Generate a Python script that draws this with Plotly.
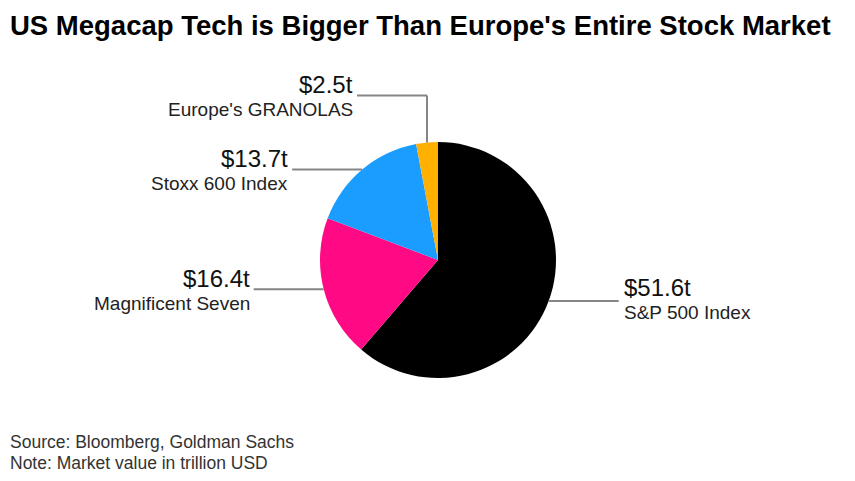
import math
import plotly.graph_objects as go

# ---- data ----
labels = ["S&P 500 Index", "Magnificent Seven", "Stoxx 600 Index", "Europe's GRANOLAS"]
values = [51.6, 16.4, 13.7, 2.5]
value_text = ["$51.6t", "$16.4t", "$13.7t", "$2.5t"]
colors = ["#000000", "#ff0a84", "#1a9dff", "#ffb000"]

title = "US Megacap Tech is Bigger Than Europe's Entire Stock Market"
footer = ["Source: Bloomberg, Goldman Sachs", "Note: Market value in trillion USD"]

# ---- layout geometry (pixels in the 855x481 window; page body has an 8px margin) ----
OFF = 8
W, H = 855 - 2 * OFF, 481 - 2 * OFF
CX, CY, R = 438, 260, 118

def px(x):
    return (x - OFF) / W

def py(y):
    return 1 - (y - OFF) / H

fig = go.Figure(go.Pie(
    labels=labels, values=values, sort=False, direction="clockwise", rotation=0,
    marker=dict(colors=colors, line=dict(width=0)),
    textinfo="none", hoverinfo="label+value", showlegend=False,
    domain=dict(x=[px(CX - R), px(CX + R)], y=[py(CY + R), py(CY - R)]),
))

# mid angles of each slice (clockwise from 12 o'clock)
total = sum(values)
mids = []
acc = 0
for v in values:
    mids.append((acc + v / 2) / total * 2 * math.pi)
    acc += v

def edge(theta):
    return CX + R * math.sin(theta), CY - R * math.cos(theta)

line_style = dict(color="#858585", width=2)
shapes = []
annotations = []
LEN = 70
VAL_SIZE = 24
LAB_SIZE = 19

def add_labels(x_end, y_line, side, val, lab):
    if side == "right":
        annotations.append(dict(x=px(x_end + 3), y=py(y_line - 13), text=val, xanchor="left", yanchor="middle",
                                showarrow=False, font=dict(size=VAL_SIZE, color="#111")))
        annotations.append(dict(x=px(x_end + 3), y=py(y_line + 12), text=lab, xanchor="left", yanchor="middle",
                                showarrow=False, font=dict(size=LAB_SIZE, color="#222")))
    else:
        annotations.append(dict(x=px(x_end - 2), y=py(y_line - 11), text=val, xanchor="right", yanchor="middle",
                                showarrow=False, font=dict(size=VAL_SIZE, color="#111")))
        annotations.append(dict(x=px(x_end - 2), y=py(y_line + 14), text=lab, xanchor="right", yanchor="middle",
                                showarrow=False, font=dict(size=LAB_SIZE, color="#222")))

for i, th in enumerate(mids):
    ex, ey = edge(th)
    if i == 3:  # small slice at top: go up then left
        y_line = ey - 47
        shapes.append(dict(type="line", xref="paper", yref="paper", x0=px(ex), y0=py(ey), x1=px(ex), y1=py(y_line), line=line_style))
        shapes.append(dict(type="line", xref="paper", yref="paper", x0=px(ex), y0=py(y_line), x1=px(ex - LEN), y1=py(y_line), line=line_style))
        add_labels(ex - LEN, y_line, "left", value_text[i], labels[i])
    elif math.sin(th) > 0:
        shapes.append(dict(type="line", xref="paper", yref="paper", x0=px(ex), y0=py(ey), x1=px(ex + LEN), y1=py(ey), line=line_style))
        add_labels(ex + LEN, ey, "right", value_text[i], labels[i])
    else:
        shapes.append(dict(type="line", xref="paper", yref="paper", x0=px(ex), y0=py(ey), x1=px(ex - LEN), y1=py(ey), line=line_style))
        add_labels(ex - LEN, ey, "left", value_text[i], labels[i])

annotations.append(dict(x=0, y=1, text="<b>" + title + "</b>", xanchor="left", yanchor="top",
                        showarrow=False, font=dict(size=27.5, color="#000")))
annotations.append(dict(x=0, y=py(442), text=footer[0], xanchor="left", yanchor="middle",
                        showarrow=False, font=dict(size=17.5, color="#333")))
annotations.append(dict(x=0, y=py(463), text=footer[1], xanchor="left", yanchor="middle",
                        showarrow=False, font=dict(size=17.5, color="#333")))

fig.update_layout(
    width=W, height=H, margin=dict(l=0, r=0, t=0, b=0),
    paper_bgcolor="white", plot_bgcolor="white",
    font=dict(family="Liberation Sans, Arial, sans-serif"),
    shapes=shapes, annotations=annotations,
)

fig.write_html("out.html")
